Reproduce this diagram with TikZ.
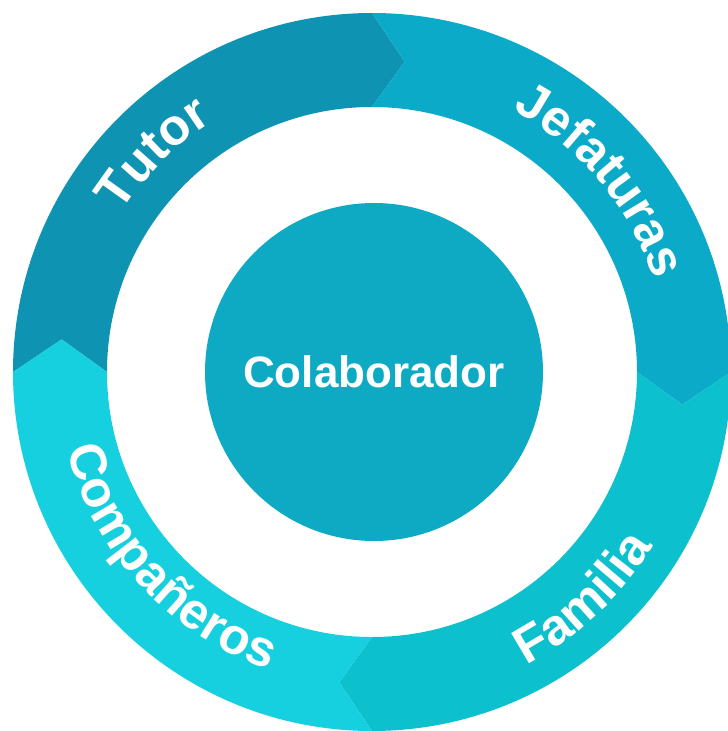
\documentclass[tikz,border=0pt]{standalone}
\usepackage{fontspec}
\setmainfont{Liberation Sans}
\usetikzlibrary{decorations.text}

\definecolor{tutorcol}{HTML}{0F93B2}
\definecolor{jefecol}{HTML}{0BAAC8}
\definecolor{famcol}{HTML}{0CC0CE}
\definecolor{compcol}{HTML}{16D0E0}
\definecolor{centercol}{HTML}{0EAAC4}
\newcommand\ringfont{\fontsize{51}{51}\selectfont\bfseries}

\begin{document}
\begin{tikzpicture}[x=1pt,y=1pt,
                ring label/.style={decorate,decoration={text along path,text align=center,
                  text color=white,text={|\ringfont|#1}}},
                main node/.style={circle,fill=centercol,minimum size=338pt,inner sep=0pt,
                  text=white,font=\fontsize{44}{44}\selectfont\bfseries}]

  \useasboundingbox (-372,-359) rectangle (356,372);

  % ring segments, each one ends in a tip
  \foreach \a/\b/\col in {180/90/tutorcol,90/0/jefecol,0/-90/famcol,-90/-180/compcol}
    \fill[\col] (\a:359) arc[start angle=\a,end angle=\b,radius=359] -- ({\b-6}:312)
      -- (\b:265) arc[start angle=\b,end angle=\a,radius=265] -- ({\a-6}:312) -- cycle;

  \node[main node] (colab) at (2,0) {Colaborador};

  % labels on the ring
  \path[ring label=Tutor] (175:297) arc[start angle=175,end angle=95,radius=297];
  \path[ring label=Jefaturas] (80:297) arc[start angle=80,end angle=0,radius=297];
  \path[ring label=Familia] (-87:331) arc[start angle=-87,end angle=-7,radius=331];
  \path[ring label=Compañeros] (182.5:315) arc[start angle=182.5,end angle=262.5,radius=315];
\end{tikzpicture}
\end{document}
